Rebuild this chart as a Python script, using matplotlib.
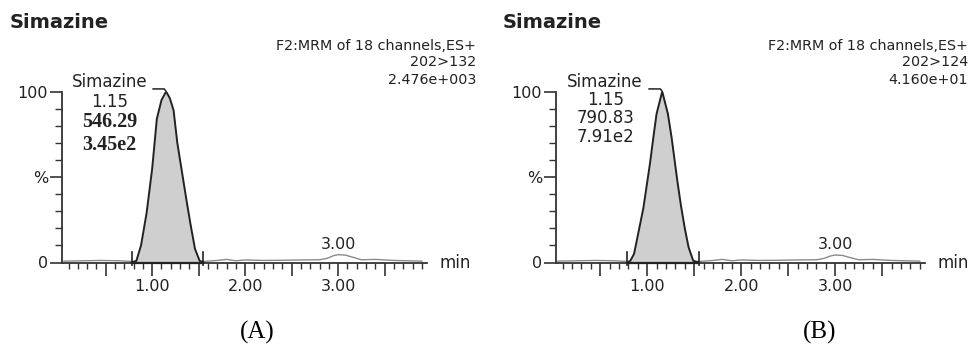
import matplotlib.pyplot as plt
from matplotlib.ticker import MultipleLocator, FixedLocator, FuncFormatter

plt.rcParams['font.family'] = ['DejaVu Sans']

# peak traces (retention time in min, relative intensity in %)
peak_a_rt = [0.78, 0.83, 0.88, 0.94, 1.00, 1.05, 1.10, 1.15, 1.19, 1.23, 1.27, 1.32, 1.37, 1.41, 1.46, 1.51, 1.55]
peak_a_pct = [0, 1, 10, 29, 55, 84, 95, 100, 96, 89, 70, 53, 36, 23, 8, 1, 0]

peak_b_rt = [0.79, 0.82, 0.86, 0.89, 0.96, 1.03, 1.07, 1.10, 1.16, 1.22, 1.26, 1.32, 1.36, 1.40, 1.44, 1.49, 1.55]
peak_b_pct = [0, 1, 5, 13, 32, 58, 75, 87, 100, 87, 73, 48, 33, 20, 9, 1, 0]

noise_a_rt = [0.05, 0.25, 0.45, 0.65, 0.78, 1.55, 1.70, 1.80, 1.90, 2.00, 2.20, 2.40, 2.60, 2.80, 2.88, 2.95, 3.00, 3.08, 3.15, 3.25, 3.40, 3.60, 3.90]
noise_a_pct = [0.8, 1.0, 1.2, 1.0, 0.6, 0.6, 1.2, 1.8, 1.0, 1.5, 1.2, 1.3, 1.5, 1.6, 2.4, 4.0, 4.6, 4.3, 3.2, 1.6, 1.8, 1.2, 0.8]

noise_b_rt = [0.05, 0.25, 0.45, 0.65, 0.79, 1.55, 1.70, 1.80, 1.90, 2.00, 2.20, 2.40, 2.60, 2.80, 2.88, 2.95, 3.00, 3.08, 3.15, 3.25, 3.40, 3.60, 3.90]
noise_b_pct = [0.8, 1.0, 1.2, 1.0, 0.6, 0.6, 1.2, 1.8, 1.0, 1.5, 1.2, 1.3, 1.5, 1.6, 2.4, 3.8, 4.4, 4.1, 3.0, 1.6, 1.8, 1.2, 0.8]

channel = ['202>132', '202>124']
intensity = ['2.476e+003', '4.160e+01']
peak_rt = ['1.15', '1.15']
peak_area = ['546.29', '790.83']
peak_height = ['3.45e2', '7.91e2']
small_peak_rt = 3.00
panel_tag = ['(A)', '(B)']

W, H = 971, 344
fig = plt.figure(figsize=(W / 100, H / 100), dpi=100)

ink = '#222222'


def xlab(v, pos):
    if v > 0.6 and abs(v - round(v)) < 1e-6:
        return '%.2f' % v
    return ''


def draw_panel(left_px, right_px, rt, pct, nrt, npct, i, val_font, lab_x, lab_rows, title_x, head_right):
    ax = fig.add_axes([left_px / W, (H - 262.5) / H, (right_px - left_px) / W, 171 / H])
    ax.set_xlim(0.03, 3.95)
    ax.set_ylim(0, 100)
    for s in ['top', 'right']:
        ax.spines[s].set_visible(False)
    for s in ['left', 'bottom']:
        ax.spines[s].set_color('#333333')
        ax.spines[s].set_linewidth(1.3)

    ax.xaxis.set_major_locator(MultipleLocator(0.5))
    ax.xaxis.set_minor_locator(MultipleLocator(0.1))
    ax.xaxis.set_major_formatter(FuncFormatter(xlab))
    ax.yaxis.set_major_locator(FixedLocator([0, 50, 100]))
    ax.yaxis.set_minor_locator(MultipleLocator(10))
    ax.set_yticklabels(['0', '%', '100'])
    ax.tick_params(axis='x', which='major', direction='out', length=9, width=1.2, color='#333333',
                   labelsize=11.5, pad=3, labelcolor=ink)
    ax.tick_params(axis='x', which='minor', direction='out', length=4, width=1.0, color='#333333')
    ax.tick_params(axis='y', which='major', direction='out', length=9, width=1.2, color='#333333',
                   labelsize=11.5, pad=1, labelcolor=ink)
    ax.tick_params(axis='y', which='minor', direction='out', length=5, width=1.0, color='#333333')

    # baseline noise and the small peak at 3.00
    ax.plot(nrt, npct, color='#8a8a8a', lw=1.0, zorder=2)
    ax.text(small_peak_rt, 6, '%.2f' % small_peak_rt, ha='center', va='bottom', fontsize=11.5, color=ink)

    # integrated peak
    ax.fill_between(rt, pct, 0, color='#cfcfcf', zorder=3, lw=0)
    ax.plot(rt, pct, color=ink, lw=1.4, zorder=4)
    ax.plot([rt[0], rt[-1]], [0, 0], color=ink, lw=1.6, zorder=4, clip_on=False)
    for x in [rt[0], rt[-1]]:
        ax.plot([x, x], [-1.5, 6], color=ink, lw=1.2, zorder=4, clip_on=False)

    # peak label and leader to apex
    apex = rt[pct.index(max(pct))]
    ax.plot([apex - 0.14, apex - 0.02, apex], [101.5, 101.5, 100], color=ink, lw=1.1, clip_on=False)
    ax.text(lab_x, lab_rows[0], 'Simazine', ha='center', va='center', fontsize=12, color=ink, clip_on=False)
    ax.text(lab_x, lab_rows[1], peak_rt[i], ha='center', va='center', fontsize=12, color=ink)
    ax.text(lab_x, lab_rows[2], peak_area[i], ha='center', va='center', color=ink, **val_font)
    ax.text(lab_x, lab_rows[3], peak_height[i], ha='center', va='center', color=ink, **val_font)

    ax.annotate('min', xy=(1, 0), xycoords='axes fraction', xytext=(9.5, 0), textcoords='offset points',
                ha='left', va='center', fontsize=12, color=ink, annotation_clip=False)

    # headers
    fig.text(title_x / W, 1 - 22 / H, 'Simazine', fontsize=14, fontweight='bold', ha='left', va='center', color=ink)
    fig.text(head_right / W, 1 - 45.5 / H, 'F2:MRM of 18 channels,ES+', fontsize=10.3, ha='right', va='center', color=ink)
    fig.text(head_right / W, 1 - 62.5 / H, channel[i], fontsize=10.3, ha='right', va='center', color=ink)
    fig.text(head_right / W, 1 - 79.5 / H, intensity[i], fontsize=10.3, ha='right', va='center', color=ink)
    return ax


serif_bold = dict(fontsize=14.5, family='Liberation Serif', fontweight='bold')
sans = dict(fontsize=12)

draw_panel(62, 426.5, peak_a_rt, peak_a_pct, noise_a_rt, noise_a_pct, 0, serif_bold,
           0.54, [105.6, 93.9, 82.2, 68.7], 10, 476)
draw_panel(556, 924.5, peak_b_rt, peak_b_pct, noise_b_rt, noise_b_pct, 1, sans,
           0.553, [105.6, 95.0, 84.5, 73.4], 503, 968)

fig.text(257 / W, 1 - 332 / H, panel_tag[0], fontsize=18, family='Liberation Serif', ha='center', va='center', color='black')
fig.text(820 / W, 1 - 332 / H, panel_tag[1], fontsize=18, family='Liberation Serif', ha='center', va='center', color='black')

fig.savefig('out.png', dpi=100, facecolor='white')
